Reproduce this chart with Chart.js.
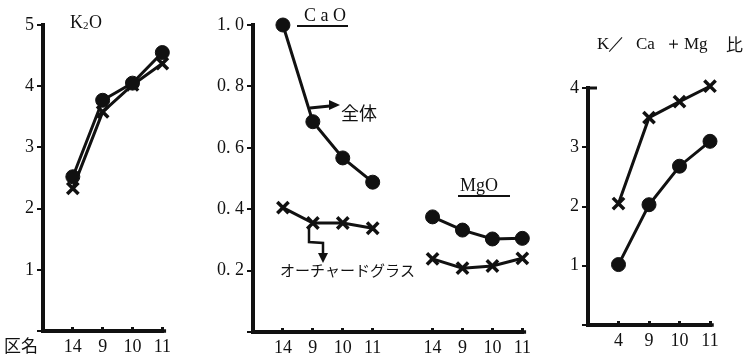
<!DOCTYPE html>
<html>
<head>
<meta charset="utf-8">
<script src="https://cdn.jsdelivr.net/npm/chart.js@4.4.0/dist/chart.umd.min.js"></script>
<style>
  body { margin: 0; background: #fff; width: 748px; height: 359px; position: relative; overflow: hidden; }
  canvas { position: absolute; top: 0; }
</style>
</head>
<body>
<canvas id="k2o" width="180" height="359" style="left:0"></canvas>
<canvas id="camg" width="340" height="359" style="left:200px"></canvas>
<canvas id="ratio" width="203" height="359" style="left:545px"></canvas>
<script>
// district labels (first slot left empty, like the original axes)
const districts = ["", "14", "9", "10", "11"];
const districtsRatio = ["", "4", "9", "10", "11"];
const caMgLabels = ["", "14", "9", "10", "11", "", "14", "9", "10", "11"];

// 全体 (whole plant) = circles, オーチャードグラス = crosses
const k2oWhole = [null, 2.52, 3.77, 4.05, 4.55];
const k2oOrchard = [null, 2.33, 3.58, 4.02, 4.37];
const caoWhole = [null, 1.0, 0.685, 0.567, 0.488];
const caoOrchard = [null, 0.405, 0.355, 0.355, 0.338];
const mgoWhole = [0.375, 0.332, 0.303, 0.305];
const mgoOrchard = [0.238, 0.208, 0.215, 0.24];
const ratioWhole = [null, 1.02, 2.03, 2.68, 3.1];
const ratioOrchard = [null, 2.05, 3.5, 3.77, 4.03];

const INK = "#111";
const SERIF = "'Liberation Serif', 'DejaVu Serif', serif";
const JP = "'Noto Sans CJK JP', sans-serif";

function wholeSet(data) {
    return {
        data: data, borderColor: INK, backgroundColor: INK, borderWidth: 3,
        pointStyle: "circle", pointRadius: 7, pointBorderWidth: 1,
        spanGaps: false, clip: false
    };
}

function orchardSet(data) {
    return {
        data: data, borderColor: INK, backgroundColor: INK, borderWidth: 3,
        pointStyle: "crossRot", pointRadius: 8, pointBorderWidth: 3.5,
        spanGaps: false, clip: false
    };
}

function yScale(max, step, fmt, width) {
    return {
        min: 0, max: max,
        ticks: {
            stepSize: step, color: INK, padding: 3,
            font: { family: SERIF, size: 18 },
            callback: v => v === 0 ? "" : fmt(v)
        },
        grid: { drawOnChartArea: false, drawTicks: true, tickLength: 6, color: INK, lineWidth: 2 },
        border: { display: true, color: INK, width: 4 },
        afterFit: s => { s.width = width; }
    };
}

function xScale(height) {
    return {
        type: "category", offset: false,
        ticks: { autoSkip: false, maxRotation: 0, color: INK, padding: 9, font: { family: SERIF, size: 18 } },
        grid: {
            drawOnChartArea: false, drawTicks: true, tickLength: -4, lineWidth: 3,
            color: c => (c.tick && c.tick.label !== "") ? INK : "rgba(0,0,0,0)"
        },
        border: { display: true, color: INK, width: 4 },
        afterFit: s => { s.height = height; }
    };
}

function arrowHead(ctx, x, y, dir) {
    // dir: "right" or "down"
    ctx.beginPath();
    if (dir === "right") {
        ctx.moveTo(x, y); ctx.lineTo(x - 11, y - 5); ctx.lineTo(x - 11, y + 5);
    } else {
        ctx.moveTo(x, y); ctx.lineTo(x - 5, y - 10); ctx.lineTo(x + 5, y - 10);
    }
    ctx.closePath();
    ctx.fill();
}

function textPlugin(draw) {
    return {
        id: "notes",
        afterDraw(chart) {
            const ctx = chart.ctx;
            const a = chart.chartArea;
            ctx.save();
            ctx.fillStyle = INK;
            ctx.strokeStyle = INK;
            // heavy axis frame, like the printed figure
            ctx.lineWidth = 3.5;
            ctx.lineCap = "square";
            ctx.beginPath();
            ctx.moveTo(a.left, a.top);
            ctx.lineTo(a.left, a.bottom);
            ctx.lineTo(a.right + 2, a.bottom);
            ctx.stroke();
            ctx.lineCap = "butt";
            ctx.textBaseline = "middle";
            draw(ctx);
            ctx.restore();
        }
    };
}

function makeChart(id, labels, sets, y, xHeight, padding, notes) {
    new Chart(document.getElementById(id), {
        type: "line",
        data: { labels: labels, datasets: sets },
        options: {
            responsive: false, animation: false,
            layout: { padding: padding },
            plugins: { legend: { display: false }, tooltip: { enabled: false } },
            scales: { x: xScale(xHeight), y: y }
        },
        plugins: [textPlugin(notes)]
    });
}

// K2O panel
makeChart("k2o", districts,
    [wholeSet(k2oWhole), orchardSet(k2oOrchard)],
    yScale(5, 1, v => String(v), 43), 28,
    { top: 25, right: 13, left: 0, bottom: 0 },
    ctx => {
        ctx.font = "18px " + SERIF;
        ctx.fillText("K", 70, 23);
        ctx.font = "11px " + SERIF;
        ctx.fillText("2", 83, 26);
        ctx.font = "18px " + SERIF;
        ctx.fillText("O", 89, 23);
        ctx.font = "17px " + JP;
        ctx.fillText("区名", 4, 346);
    });

// CaO / MgO panel
makeChart("camg", caMgLabels,
    [wholeSet(caoWhole.concat([null], mgoWhole)), orchardSet(caoOrchard.concat([null], mgoOrchard))],
    yScale(1, 0.2, v => v.toFixed(1).replace(".", ". "), 53), 27,
    { top: 25, right: 12, left: 0, bottom: 0 },
    ctx => {
        ctx.font = "18px " + SERIF;
        ctx.fillText("C a O", 104, 16);
        ctx.fillText("MgO", 260, 186);
        ctx.lineWidth = 2;
        ctx.beginPath();
        ctx.moveTo(97, 26); ctx.lineTo(148, 26);
        ctx.moveTo(258, 196); ctx.lineTo(310, 196);
        ctx.stroke();
        // 全体 arrow
        ctx.lineWidth = 3;
        ctx.beginPath();
        ctx.moveTo(110, 108); ctx.lineTo(130, 106);
        ctx.stroke();
        arrowHead(ctx, 140, 105, "right");
        ctx.font = "18px " + JP;
        ctx.fillText("全体", 141, 113);
        // オーチャードグラス arrow
        ctx.lineWidth = 2.5;
        ctx.beginPath();
        ctx.moveTo(109, 227); ctx.lineTo(109, 242);
        ctx.lineTo(123, 243); ctx.lineTo(123, 254);
        ctx.stroke();
        arrowHead(ctx, 123, 263, "down");
        ctx.font = "15px " + JP;
        ctx.fillText("オーチャードグラス", 80, 270);
    });

// K/(Ca+Mg) ratio panel
makeChart("ratio", districtsRatio,
    [wholeSet(ratioWhole), orchardSet(ratioOrchard)],
    yScale(4, 1, v => String(v), 43), 34,
    { top: 88, right: 38, left: 0, bottom: 0 },
    ctx => {
        ctx.font = "17px " + SERIF;
        ctx.fillText("K", 52, 45);
        ctx.fillText("／", 63, 45);
        ctx.fillText("Ca", 91, 45);
        ctx.fillText("＋", 120, 45);
        ctx.fillText("Mg", 139, 45);
        ctx.font = "17px " + JP;
        ctx.fillText("比", 181, 45);
        // short cap at the top of the axis
        ctx.lineWidth = 3;
        ctx.beginPath();
        ctx.moveTo(43, 88); ctx.lineTo(52, 88);
        ctx.stroke();
    });
</script>
</body>
</html>
